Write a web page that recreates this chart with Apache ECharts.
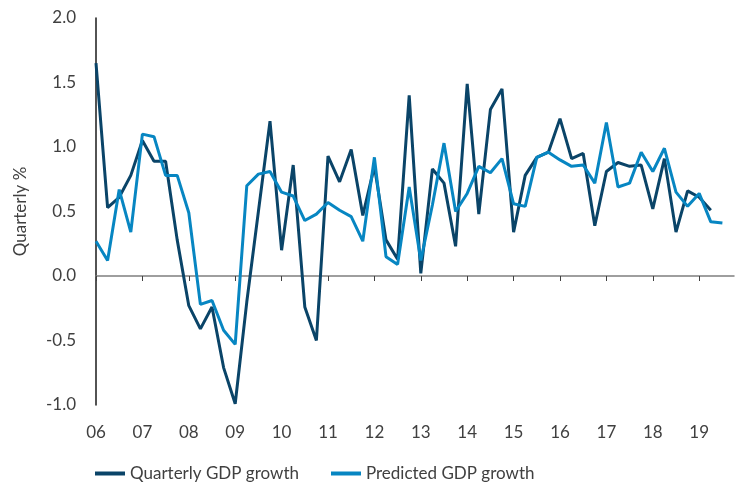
<!DOCTYPE html>
<html>
<head>
<meta charset="utf-8">
<script src="https://cdn.jsdelivr.net/npm/echarts@6/dist/echarts.min.js"></script>
<style>
  html, body { margin: 0; padding: 0; background: #fff; }
  #chart { width: 738px; height: 486px; }
</style>
</head>
<body>
<div id="chart"></div>
<script>
// quarters 06Q1 .. 19Q4
var years = ['06', '07', '08', '09', '10', '11', '12', '13', '14', '15', '16', '17', '18', '19'];
var quarters = [];
for (var i = 0; i < years.length; i++) {
    for (var q = 1; q <= 4; q++) {
        quarters.push(years[i] + 'Q' + q);
    }
}

var actualGrowth = [
    1.65, 0.53, 0.61, 0.78, 1.05, 0.89, 0.89, 0.28,
    -0.23, -0.41, -0.24, -0.71, -0.99, -0.2, 0.5, 1.2,
    0.2, 0.86, -0.24, -0.5, 0.93, 0.73, 0.98, 0.47,
    0.85, 0.28, 0.13, 1.4, 0.02, 0.83, 0.72, 0.23,
    1.49, 0.48, 1.29, 1.45, 0.34, 0.78, 0.92, 0.96,
    1.22, 0.91, 0.95, 0.39, 0.81, 0.88, 0.85, 0.86,
    0.52, 0.91, 0.34, 0.66, 0.61, 0.51
];

var predictedGrowth = [
    0.27, 0.12, 0.67, 0.34, 1.1, 1.08, 0.78, 0.78,
    0.49, -0.22, -0.19, -0.42, -0.53, 0.7, 0.79, 0.81,
    0.65, 0.62, 0.43, 0.48, 0.57, 0.51, 0.46, 0.27,
    0.92, 0.15, 0.09, 0.69, 0.12, 0.55, 1.03, 0.5,
    0.64, 0.85, 0.8, 0.91, 0.56, 0.54, 0.92, 0.96,
    0.9, 0.85, 0.86, 0.72, 1.19, 0.69, 0.72, 0.96,
    0.81, 0.99, 0.65, 0.54, 0.64, 0.42, 0.41
];

var textColor = '#404040';
var fontFamily = 'Lato, "DejaVu Sans", sans-serif';

var myChart = echarts.init(document.getElementById('chart'));

myChart.setOption({
    animation: false,
    textStyle: {fontFamily: fontFamily, color: textColor},
    grid: {left: 96, right: 4, top: 18, bottom: 81},
    legend: {
        bottom: 0,
        left: 90,
        padding: [5, 5, 4, 5],
        itemWidth: 30,
        itemHeight: 4,
        itemGap: 32,
        icon: 'rect',
        textStyle: {fontSize: 17, color: textColor, fontFamily: fontFamily},
        data: ['Quarterly GDP growth', 'Predicted GDP growth']
    },
    xAxis: [
        {
            // zero line with year ticks
            type: 'category',
            data: quarters,
            boundaryGap: false,
            axisLine: {onZero: true, lineStyle: {color: '#7f7f7f', width: 1.5}},
            axisTick: {show: true, interval: 3, length: 5, lineStyle: {color: '#404040'}},
            axisLabel: {show: false}
        },
        {
            // year labels along the bottom
            type: 'category',
            data: quarters,
            boundaryGap: false,
            position: 'bottom',
            axisLine: {show: false},
            axisTick: {show: false},
            axisLabel: {
                interval: 3,
                margin: 19,
                fontSize: 17,
                color: textColor,
                fontFamily: fontFamily,
                formatter: function(v) {
                    return v.substr(0, 2);
                }
            }
        }
    ],
    yAxis: {
        type: 'value',
        min: -1,
        max: 2,
        interval: 0.5,
        name: 'Quarterly %',
        nameLocation: 'middle',
        nameRotate: 90,
        nameGap: 67,
        nameTextStyle: {fontSize: 17, color: textColor, fontFamily: fontFamily},
        axisLine: {show: true, lineStyle: {color: '#1a1a1a', width: 1.5}},
        axisTick: {show: false},
        splitLine: {show: false},
        axisLabel: {
            margin: 20,
            fontSize: 17,
            color: textColor,
            fontFamily: fontFamily,
            formatter: function(v) {
                return v.toFixed(1);
            }
        }
    },
    series: [
        {
            name: 'Quarterly GDP growth',
            type: 'line',
            xAxisIndex: 0,
            data: actualGrowth,
            showSymbol: false,
            symbol: 'none',
            color: '#0a4468',
            lineStyle: {width: 3, color: '#0a4468'}
        },
        {
            name: 'Predicted GDP growth',
            type: 'line',
            xAxisIndex: 0,
            data: predictedGrowth,
            showSymbol: false,
            symbol: 'none',
            color: '#0786c2',
            lineStyle: {width: 3, color: '#0786c2'}
        }
    ]
});
</script>
</body>
</html>
